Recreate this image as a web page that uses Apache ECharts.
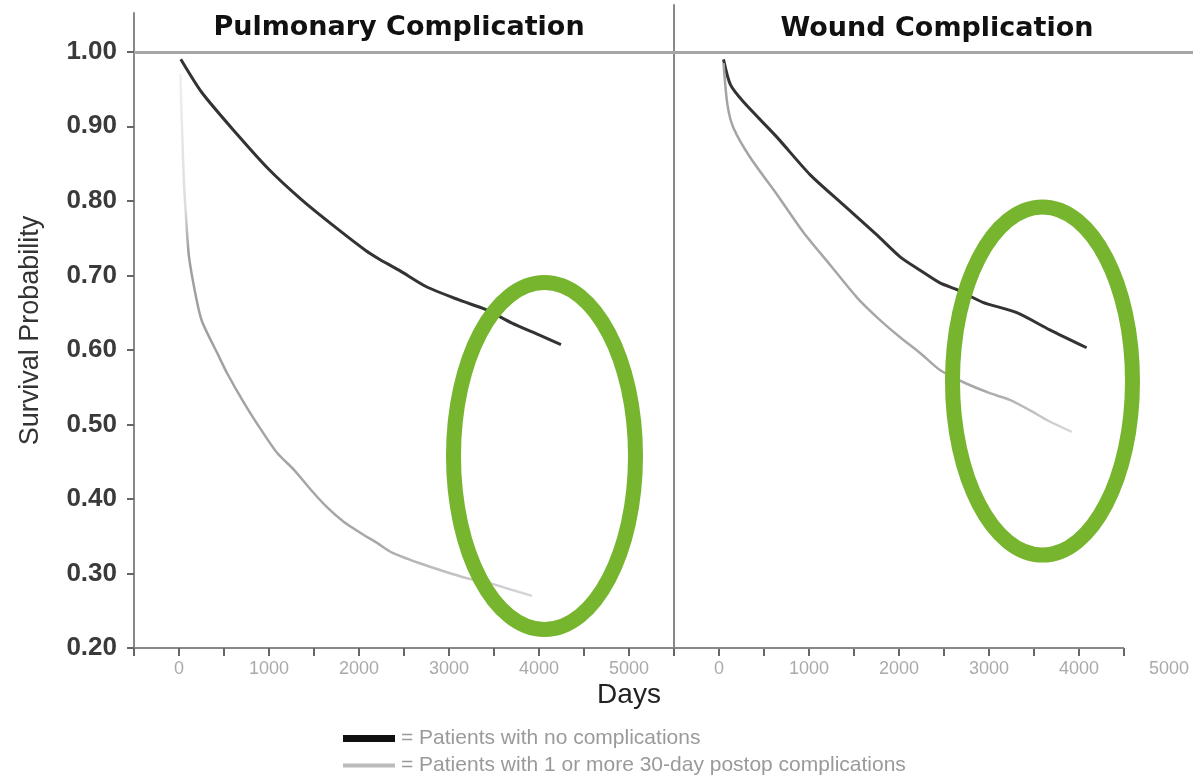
<!DOCTYPE html>
<html>
<head>
<meta charset="utf-8">
<script src="https://cdn.jsdelivr.net/npm/echarts@6/dist/echarts.min.js"></script>
<style>
  html, body { margin: 0; padding: 0; background: #fff; }
  #chart { width: 1193px; height: 775px; }
</style>
</head>
<body>
<div id="chart"></div>
<script>
// panel titles and legend names
var panelTitles = ['Pulmonary Complication', 'Wound Complication'];
var nameNone = 'Patients with no complications';
var nameSome = 'Patients with 1 or more 30-day postop complications';

// tick values
var dayTicks = [-500, 0, 500, 1000, 1500, 2000, 2500, 3000, 3500, 4000, 4500, 5000, 5500];
var dayTicksRight = [-500, 0, 500, 1000, 1500, 2000, 2500, 3000, 3500, 4000, 4500];
var dayLabels = [0, 1000, 2000, 3000, 4000, 5000];
var probTicks = [0.2, 0.3, 0.4, 0.5, 0.6, 0.7, 0.8, 0.9, 1.0];

// Pulmonary complication: [days, survival]
var pulmNone = [[20, 0.99], [256, 0.945], [633, 0.891], [1000, 0.842], [1367, 0.801], [1744, 0.764],
  [2078, 0.733], [2222, 0.722], [2444, 0.707], [2744, 0.685], [3111, 0.667], [3411, 0.654],
  [3700, 0.636], [4000, 0.620], [4244, 0.607]];
var pulmSome = [[15, 0.97], [33, 0.90], [55, 0.824], [78, 0.779], [111, 0.725], [189, 0.671],
  [256, 0.638], [444, 0.591], [533, 0.569], [722, 0.529], [911, 0.493], [1089, 0.462],
  [1278, 0.439], [1467, 0.412], [1644, 0.389], [1833, 0.369], [2022, 0.354], [2200, 0.341],
  [2367, 0.328], [2667, 0.314], [2967, 0.302], [3189, 0.294], [3444, 0.287], [3700, 0.278],
  [3922, 0.270]];

// Wound complication: [days, survival]
var woundNone = [[50, 0.99], [127, 0.956], [271, 0.933], [648, 0.885], [1014, 0.835], [1380, 0.795],
  [1757, 0.754], [2012, 0.725], [2234, 0.707], [2455, 0.690], [2644, 0.681], [2932, 0.664],
  [3309, 0.650], [3675, 0.627], [4085, 0.603]];
var woundSome = [[50, 0.985], [94, 0.929], [161, 0.898], [349, 0.858], [648, 0.808], [937, 0.758],
  [1236, 0.714], [1536, 0.670], [1790, 0.640], [2012, 0.617], [2234, 0.596], [2455, 0.573],
  [2710, 0.557], [3010, 0.542], [3231, 0.533], [3486, 0.517], [3642, 0.506], [3919, 0.490]];

var chart = echarts.init(document.getElementById('chart'));

var axisGray = '#888';
var green = '#78b52f';
var dayLabelStyle = {
  customValues: dayLabels, margin: 12, color: '#aaa', fontSize: 18, fontFamily: 'Liberation Sans',
  formatter: function (v) { return String(v); }
};
var legendText = { fontFamily: 'Liberation Sans', fontSize: 21, color: '#9a9a9a', padding: [0, 0, 0, 1] };

var option = {
  animation: false,
  backgroundColor: '#fff',
  legend: [
    {
      left: 338, top: 723,
      itemWidth: 52, itemHeight: 7, itemGap: 0,
      data: [{ name: nameNone, icon: 'rect', itemStyle: { color: '#111' } }],
      formatter: '= {name}',
      textStyle: legendText
    },
    {
      left: 338, top: 750,
      itemWidth: 52, itemHeight: 4, itemGap: 0,
      data: [{ name: nameSome, icon: 'rect', itemStyle: { color: '#bbb' } }],
      formatter: '= {name}',
      textStyle: legendText
    }
  ],
  grid: [
    { left: 134, top: 13, width: 540, height: 635 },
    { left: 674, top: 5, width: 519, height: 643 }
  ],
  xAxis: [
    {
      gridIndex: 0, type: 'value', min: -500, max: 5500,
      axisLine: { onZero: false, lineStyle: { color: axisGray, width: 2 } },
      axisTick: { customValues: dayTicks, length: 8, lineStyle: { color: '#666', width: 2 } },
      axisLabel: dayLabelStyle,
      splitLine: { show: false }
    },
    {
      gridIndex: 1, type: 'value', min: -500, max: 5267,
      axisLine: { show: false, onZero: false },
      axisTick: { show: true, customValues: dayTicksRight, length: 8, lineStyle: { color: '#666', width: 2 } },
      axisLabel: dayLabelStyle,
      splitLine: { show: false }
    }
  ],
  yAxis: [
    {
      gridIndex: 0, type: 'value', min: 0.2, max: 1.052,
      name: 'Survival Probability', nameLocation: 'middle', nameGap: 90,
      nameTextStyle: { fontFamily: 'Liberation Sans', fontSize: 27, color: '#333' },
      axisLine: { show: true, onZero: false, lineStyle: { color: axisGray, width: 2 } },
      axisTick: { show: true, customValues: probTicks, length: 7, lineStyle: { color: '#666', width: 2 } },
      axisLabel: {
        customValues: probTicks, margin: 17, color: '#3a3a3a', fontSize: 26, fontWeight: 'bold',
        fontFamily: 'Liberation Sans',
        formatter: function (v) { return v.toFixed(2); }
      },
      splitLine: { show: false }
    },
    {
      gridIndex: 1, type: 'value', min: 0.2, max: 1.063,
      axisLine: { show: true, onZero: false, lineStyle: { color: axisGray, width: 2 } },
      axisTick: { show: false },
      axisLabel: { show: false },
      splitLine: { show: false }
    }
  ],
  series: [
    {
      name: nameNone, type: 'line', xAxisIndex: 0, yAxisIndex: 0,
      data: pulmNone, showSymbol: false, smooth: 0.25,
      lineStyle: { color: '#333', width: 3 }, itemStyle: { color: '#111' },
      markLine: {
        silent: true, symbol: 'none', label: { show: false },
        lineStyle: { color: '#a6a6a6', width: 3, type: 'solid' },
        data: [{ yAxis: 1.0 }]
      }
    },
    {
      name: nameSome, type: 'line', xAxisIndex: 0, yAxisIndex: 0,
      data: pulmSome, showSymbol: false, smooth: 0.25,
      lineStyle: {
        width: 2.5,
        // faint near the start and at the tail, as in the scan
        color: new echarts.graphic.LinearGradient(0, 0, 0, 1, [
          { offset: 0, color: '#f0f0f0' },
          { offset: 0.26, color: '#dcdcdc' },
          { offset: 0.34, color: '#9e9e9e' },
          { offset: 0.9, color: '#a8a8a8' },
          { offset: 1, color: '#d8d8d8' }
        ])
      },
      itemStyle: { color: '#bbb' }
    },
    {
      name: nameNone, type: 'line', xAxisIndex: 1, yAxisIndex: 1,
      data: woundNone, showSymbol: false, smooth: 0.25,
      lineStyle: { color: '#333', width: 3 }, itemStyle: { color: '#111' },
      markLine: {
        silent: true, symbol: 'none', label: { show: false },
        lineStyle: { color: '#a6a6a6', width: 3, type: 'solid' },
        data: [
          { yAxis: 1.0 },
          [{ coord: [-500, 0.2], lineStyle: { color: axisGray, width: 2 } }, { coord: [4500, 0.2] }]
        ]
      }
    },
    {
      name: nameSome, type: 'line', xAxisIndex: 1, yAxisIndex: 1,
      data: woundSome, showSymbol: false, smooth: 0.25,
      lineStyle: {
        width: 2.5,
        color: new echarts.graphic.LinearGradient(0, 0, 0, 1, [
          { offset: 0, color: '#a3a3a3' },
          { offset: 0.88, color: '#a8a8a8' },
          { offset: 1, color: '#dadada' }
        ])
      },
      itemStyle: { color: '#bbb' }
    }
  ],
  graphic: [
    {
      type: 'text', x: 399, y: 28, z: 50,
      style: { text: panelTitles[0], fontFamily: 'DejaVu Sans', fontWeight: 'bold', fontSize: 27,
        fill: '#111', align: 'center', verticalAlign: 'middle' }
    },
    {
      type: 'text', x: 937, y: 29, z: 50,
      style: { text: panelTitles[1], fontFamily: 'DejaVu Sans', fontWeight: 'bold', fontSize: 27,
        fill: '#111', align: 'center', verticalAlign: 'middle' }
    },
    {
      type: 'text', x: 629, y: 695, z: 50,
      style: { text: 'Days', fontFamily: 'Liberation Sans', fontSize: 28,
        fill: '#222', align: 'center', verticalAlign: 'middle' }
    },
    // green highlight ellipses
    {
      type: 'ellipse', z: 100,
      shape: { cx: 544.5, cy: 456, rx: 91, ry: 173.5 },
      style: { fill: 'none', stroke: green, lineWidth: 15 }
    },
    {
      type: 'ellipse', z: 100,
      shape: { cx: 1042.5, cy: 381, rx: 90, ry: 174 },
      style: { fill: 'none', stroke: green, lineWidth: 15 }
    }
  ]
};

chart.setOption(option);
</script>
</body>
</html>
